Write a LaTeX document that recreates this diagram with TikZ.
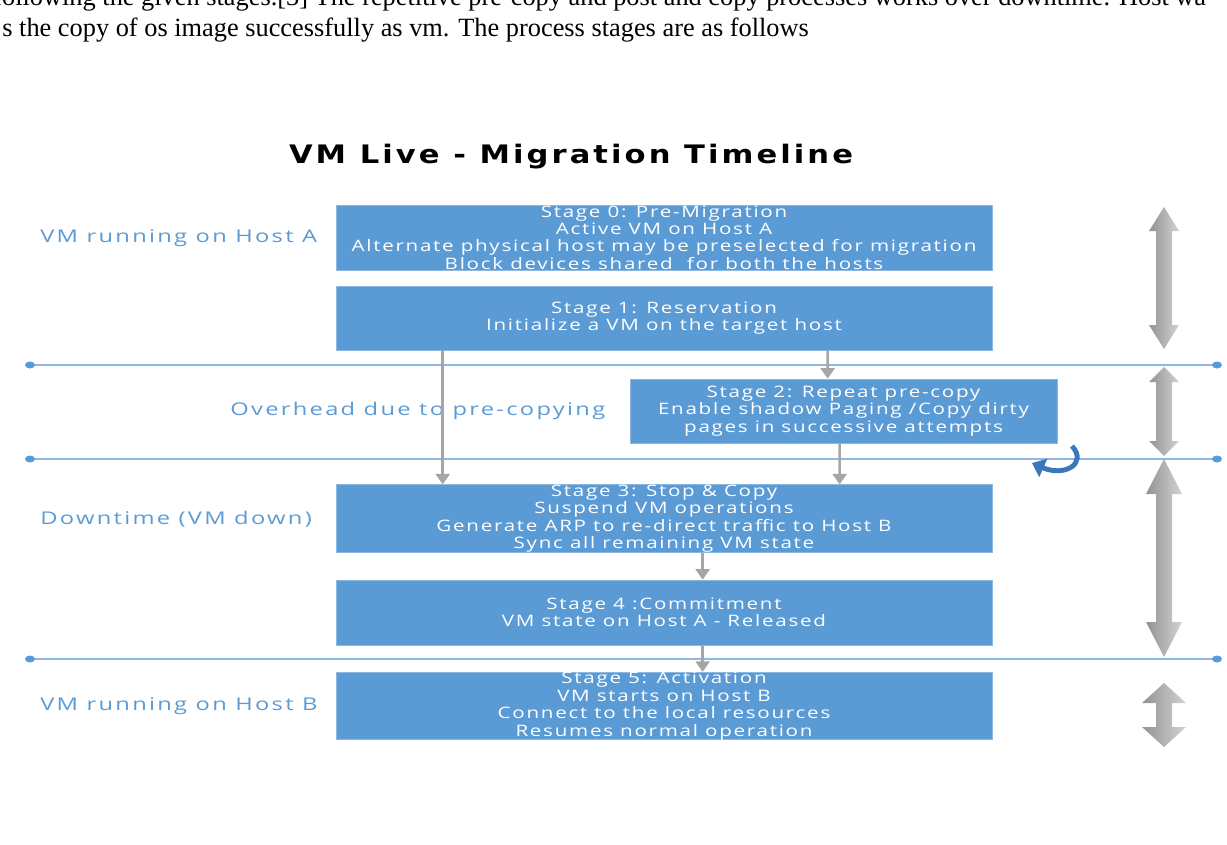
\documentclass[tikz,border=0pt]{standalone}
\usepackage{fontspec}
\setmainfont{Liberation Serif}
\newfontfamily\boxfont[FakeStretch=1.3, LetterSpace=11]{Open Sans}
\newfontfamily\labelfont[FakeStretch=1.35, LetterSpace=13]{Open Sans}
\newfontfamily\titlefont[FakeStretch=1.2, LetterSpace=12]{DejaVu Sans}
\usetikzlibrary{positioning,arrows.meta,calc}
\definecolor{stageblue}{HTML}{5B9BD5}
\definecolor{lineblue}{HTML}{8FB8E0}
\definecolor{labelblue}{HTML}{5B9BD5}
\definecolor{conngray}{HTML}{A6A6A6}
\definecolor{curlblue}{HTML}{3B78BA}

\begin{document}
\begin{tikzpicture}[x=0.02cm, y=-0.02cm,
    stagebox/.style={fill=stageblue, draw=stageblue!70!white, text=white, align=center,
      inner sep=0pt, font=\boxfont\fontsize{9}{9.9}\selectfont},
    sidelabel/.style={anchor=west, text=labelblue, inner sep=0pt, font=\labelfont\fontsize{10}{12}\selectfont},
    conn/.style={conngray, line width=1.4pt, -{Triangle[width=8pt,length=6pt]}},
    timeline/.style={lineblue, line width=0.7pt}]
    \useasboundingbox (0,0) rectangle (1227,845);
    \clip (0,0) rectangle (1227,845);
    % text of the page above the figure
    \node[anchor=base west, inner sep=0pt, font=\fontsize{15}{18}\selectfont] (para1) at (-7,6)
      {following the given stages.[3] The repetitive pre-copy and post and copy processes works over downtime. Host wa};
    \node[anchor=base west, inner sep=0pt, font=\fontsize{15}{18}\selectfont] (para2) at (2,36)
      {s the copy of os image successfully as vm. The process stages are as follows};
    \node[font=\titlefont\bfseries\fontsize{14.5}{17}\selectfont] (title) at (571,157) {VM Live - Migration Timeline};

    % time lines with dots at both ends
    \foreach \yy/\nm in {365/ta,459/tb,659/tc} {
      \coordinate (\nm l) at (30,\yy);
      \coordinate (\nm r) at (1217,\yy);
      \draw[timeline] (\nm l) -- (\nm r);
      \fill[stageblue] (\nm l) ellipse (5 and 3.5);
      \fill[stageblue] (\nm r) ellipse (5 and 3.5);
    }

    % stages
    \node[stagebox, minimum width=13.12cm, minimum height=1.3cm] (s0) at (664,237.5)
      {Stage 0: Pre-Migration\\Active VM on Host A\\Alternate physical host may be preselected for migration\\Block devices shared\ \ for both the hosts};
    \node[stagebox, minimum width=13.12cm, minimum height=1.28cm] (s1) at (664,318)
      {Stage 1: Reservation\\Initialize a VM on the target host};
    \node[stagebox, minimum width=8.54cm, minimum height=1.28cm] (s2) at (843.5,411)
      {Stage 2: Repeat pre-copy\\Enable shadow Paging /Copy dirty\\pages in successive attempts};
    \node[stagebox, minimum width=13.12cm, minimum height=1.3cm] (s3) at (664,518.5)
      {Stage 3: Stop \& Copy\\Suspend VM operations\\Generate ARP to re-direct traffic to Host B\\Sync all remaining VM state};
    \node[stagebox, minimum width=13.12cm, minimum height=1.3cm] (s4) at (664,612.5)
      {Stage 4 :Commitment\\VM state on Host A - Released};
    \node[stagebox, minimum width=13.12cm, minimum height=1.32cm] (s5) at (664,706)
      {Stage 5: Activation\\VM starts on Host B\\Connect to the local resources\\Resumes normal operation};

    % labels on the left
    \node[sidelabel] (lbA) at (40,238) {VM running on Host A};
    \node[sidelabel] (lbO) at (230,411) {Overhead due to pre-copying};
    \node[sidelabel] (lbD) at (40,519) {Downtime (VM down)};
    \node[sidelabel] (lbB) at (40,706) {VM running on Host B};

    % flow between the stages
    \draw[conn] ([xshift=2.14cm]s1.south west) -- ([xshift=2.14cm]s3.north west);
    \draw[conn] ([xshift=9.84cm]s1.south west) -- ([xshift=3.96cm]s2.north west);
    \draw[conn] ([xshift=4.2cm]s2.south west) -- ([xshift=10.08cm]s3.north west);
    \draw[conn] ([xshift=7.34cm]s3.south west) -- ([xshift=7.34cm]s4.north west);
    \draw[conn] ([xshift=7.34cm]s4.south west) -- ([xshift=7.34cm]s5.north west);

    % repeat curl next to stage 2
    \coordinate (curlA) at (1072,446);
    \coordinate (curlB) at (1032,463);
    \draw[curlblue, line width=2.8pt, -{Triangle[width=11pt,length=7pt]}]
      (curlA) .. controls (1088,464) and (1064,477) .. (curlB);

    % span arrows on the right
    \foreach \ta/\tb/\hw/\hl in {207/349/15/24, 367/456/15/15, 459/657/18/35, 683/747/22/20} {
      \shade[left color=gray!85, right color=gray!35]
        (1164,\ta) -- (1164+\hw,\ta+\hl) -- (1172,\ta+\hl) -- (1172,\tb-\hl) -- (1164+\hw,\tb-\hl)
        -- (1164,\tb) -- (1164-\hw,\tb-\hl) -- (1156,\tb-\hl) -- (1156,\ta+\hl) -- (1164-\hw,\ta+\hl) -- cycle;
    }
  \end{tikzpicture}
\end{document}
